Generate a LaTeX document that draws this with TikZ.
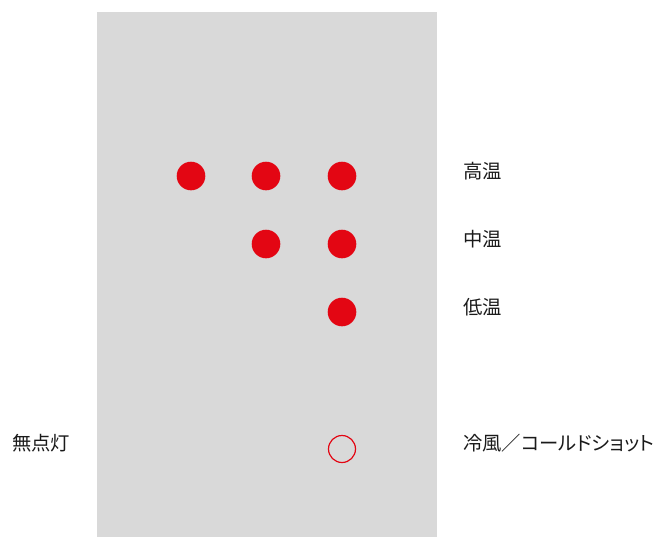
\documentclass[tikz,border=0pt]{standalone}
\usepackage{fontspec}
\setmainfont{Noto Sans CJK JP}
\newfontfamily\paltfont[RawFeature=+palt]{Noto Sans CJK JP}
\definecolor{panel}{HTML}{D9D9D9}
\definecolor{lamp}{HTML}{E30613}
\definecolor{txt}{HTML}{1A1A1A}
\begin{document}
\begin{tikzpicture}[x=0.75pt,y=-0.75pt,
  on/.style={circle,fill=lamp,minimum size=28.6*0.75pt,inner sep=0pt},
  off/.style={circle,draw=lamp,line width=0.9pt,fill=none,minimum size=27*0.75pt,inner sep=0pt},
  lbl/.style={anchor=west,inner sep=0pt,text=txt,font=\fontsize{14.5pt}{16pt}\selectfont}]
\useasboundingbox (0,0) rectangle (658,537);
\fill[panel] (97,12) rectangle (437,537);
\node[on] (h1) at (191,176) {};
\node[on] (h2) at (266,176) {};
\node[on] (h3) at (342,176) {};
\node[on] (m2) at (266,244) {};
\node[on] (m3) at (342,244) {};
\node[on] (l3) at (342,312) {};
\node[off] (c3) at (342,449) {};
\node[lbl] (th) at (463,171) {高温};
\node[lbl] (tm) at (463,239) {中温};
\node[lbl] (tl) at (463,307) {低温};
\node[lbl,font=\paltfont\fontsize{14.5pt}{16pt}\selectfont] (tc) at (463,443) {冷風／コールドショット};
\node[lbl] (tn) at (12,443) {無点灯};
\end{tikzpicture}
\end{document}
